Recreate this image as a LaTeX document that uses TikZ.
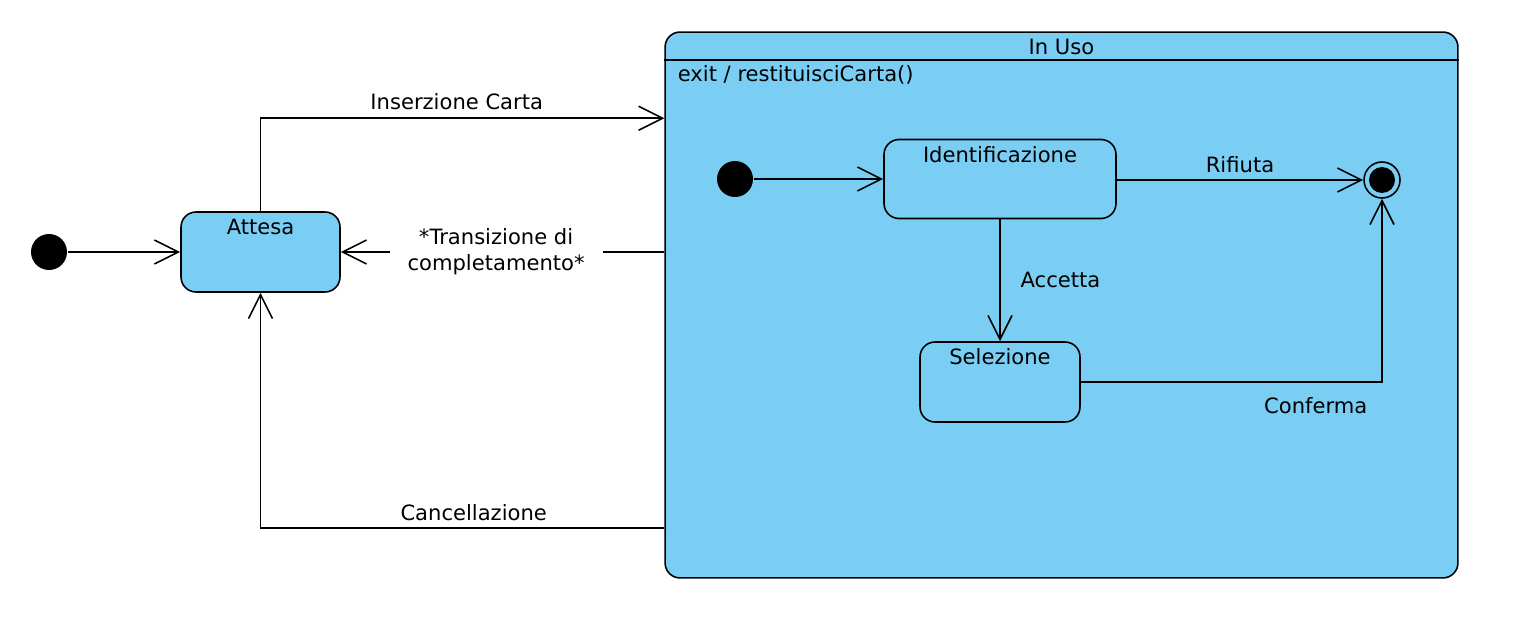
\documentclass[tikz,border=0pt]{standalone}
\usepackage{fontspec}
\setmainfont{DejaVu Sans}
\usetikzlibrary{arrows.meta}
\definecolor{statefill}{RGB}{122,206,244}

\begin{document}
\begin{tikzpicture}[x=0.02cm,y=-0.02cm,line width=0.9pt,
  font=\fontsize{12}{15}\selectfont,
  state/.style={draw,fill=statefill,rounded corners=0.3cm,inner sep=0pt},
  trans/.style={-{Straight Barb[length=0.48cm,width=0.48cm]}},
  initial/.style={circle,fill=black,inner sep=0pt,minimum size=0.72cm},
  title/.style={anchor=center,yshift=-0.31cm,inner sep=0pt}]

\useasboundingbox (0,0) rectangle (1520,628);

% Composite state
\node[state,rounded corners=0.3cm,minimum width=15.86cm,minimum height=10.92cm,
  label={[title]north:In Uso}] (inuso) at (1061.5,305) {};
\draw ([yshift=-0.58cm]inuso.north west) -- ([yshift=-0.58cm]inuso.north east);
\node[anchor=west,inner sep=0pt] (exit) at (677,75) {exit / restituisciCarta()};

% States
\node[initial] (start) at (49,252) {};
\node[state,minimum width=3.18cm,minimum height=1.6cm,
  label={[title]north:Attesa}] (attesa) at (260.5,252) {};
\node[initial] (substart) at (735,179) {};
\node[state,minimum width=4.64cm,minimum height=1.58cm,
  label={[title]north:Identificazione}] (ident) at (1000,179) {};
\node[state,minimum width=3.2cm,minimum height=1.6cm,
  label={[title]north:Selezione}] (sel) at (1000,382) {};
\node[circle,draw,fill=statefill,inner sep=0pt,minimum size=0.72cm] (fine) at (1382,180) {};
\fill (fine) circle (0.26cm);

% Transitions
\draw[trans] (start) -- (attesa);
\draw[trans] (attesa.north) |- ([yshift=-1.74cm]inuso.north west)
  node[pos=0.743,above=0.04cm] (lins) {Inserzione Carta};
\draw[trans] (inuso.west |- attesa) -- (attesa.east)
  node[pos=0.52,fill=white,align=center,inner xsep=0.36cm] (lcompl) {*Transizione di\\completamento*};
\draw[trans] ([yshift=1.02cm]inuso.south west) -| (attesa.south)
  node[pos=0.236,above=0cm] (lcanc) {Cancellazione};
\draw[trans] (substart) -- (substart -| ident.west);
\draw[trans] (ident.east |- fine) -- (fine) node[midway,above=0.02cm] (lrif) {Rifiuta};
\draw[trans] (ident) -- (sel) node[midway,right=0.28cm] (lacc) {Accetta};
\draw[trans] (sel) -| (fine) node[pos=0.39,below=0.18cm] (lconf) {Conferma};

\end{tikzpicture}
\end{document}
